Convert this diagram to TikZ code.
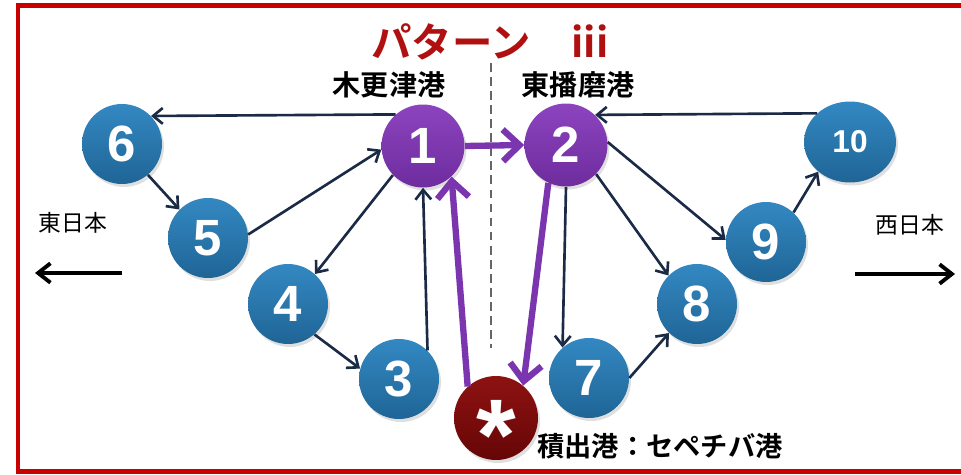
\documentclass[tikz,border=0pt]{standalone}
\usepackage{fontspec}
\setmainfont{Liberation Sans}
\newfontfamily\jp{Noto Sans CJK JP}[BoldFont={Noto Sans CJK JP Bold}]
\usetikzlibrary{arrows.meta,shapes.geometric,shadows}
\definecolor{bluetop}{HTML}{3388C2}
\definecolor{bluebot}{HTML}{1F6596}
\definecolor{purtop}{HTML}{8C44BE}
\definecolor{purbot}{HTML}{6E2C9E}
\definecolor{redtop}{HTML}{8E1212}
\definecolor{redbot}{HTML}{660606}
\definecolor{edgenavy}{HTML}{1B2B45}
\definecolor{purline}{HTML}{7B35AE}
\definecolor{framered}{HTML}{C80000}
\definecolor{titlered}{HTML}{B01010}
\tikzset{
  port/.style={circle, inner sep=0pt, text=white,
    font=\bfseries\fontsize{29}{29}\selectfont,
    drop shadow={opacity=0.25, shadow xshift=0.04cm, shadow yshift=-0.06cm}},
  bluenode/.style={port, minimum size=1.6cm, top color=bluetop, bottom color=bluebot},
  purnode/.style={port, minimum size=1.66cm, top color=purtop, bottom color=purbot},
  rednode/.style={port, minimum size=1.68cm, top color=redtop, bottom color=redbot},
  link/.style={draw=edgenavy, line width=1.5pt, -{Straight Barb[length=5.5pt,width=9pt]}},
  route/.style={draw=purline, line width=3.6pt, -{Straight Barb[length=9.5pt,width=18pt]}},
  dirarrow/.style={draw=black, line width=2.2pt, -{Straight Barb[length=7pt,width=11pt]}},
  lbl/.style={font=\jp\bfseries\fontsize{16}{16}\selectfont, inner sep=0pt},
}
\begin{document}
\begin{tikzpicture}[x=0.02cm, y=-0.02cm]
\useasboundingbox (0,0) rectangle (961,474);
% frame
\draw[framered, line width=0.1cm] (985,5) -- (18,5) -- (18,471) -- (985,471);
% title
\node[inner sep=0pt, text=titlered, font=\jp\bfseries\fontsize{23}{23}\selectfont] (title) at (490,42) {パターン　iii};
% dashed divider
\coordinate (dtop) at (491,63);
\coordinate (dbot) at (491,348);
\draw[gray!80!black, line width=0.7pt, dash pattern=on 5pt off 3pt] (dtop) -- (dbot);
% labels
\node[lbl] (kisarazu) at (389,85) {木更津港};
\node[lbl] (higashiharima) at (578,85) {東播磨港};
\node[lbl, font=\jp\fontsize{13}{13}\selectfont] (east) at (73,223) {東日本};
\node[lbl, font=\jp\fontsize{13}{13}\selectfont] (west) at (910,225) {西日本};
\node[lbl, font=\jp\bfseries\fontsize{15.5}{15.5}\selectfont] (sepetiba) at (660,446) {積出港：セペチバ港};
% direction arrows
\coordinate (ea) at (122,273);
\coordinate (eb) at (35,273);
\coordinate (wa) at (855,274);
\coordinate (wb) at (955,274);
\draw[dirarrow] (ea) -- (eb);
\draw[dirarrow] (wa) -- (wb);
% nodes
\node[purnode] (n1) at (423,146) {1};
\node[purnode] (n2) at (566,145) {2};
\node[bluenode] (n3) at (399,379) {3};
\node[bluenode] (n4) at (288,304) {4};
\node[bluenode] (n5) at (208,238) {5};
\node[bluenode] (n6) at (122,144) {6};
\node[bluenode] (n7) at (589,378) {7};
\node[bluenode] (n8) at (697,304) {8};
\node[bluenode] (n9) at (766,242) {9};
\node[port, ellipse, minimum width=1.84cm, minimum height=1.62cm, top color=bluetop, bottom color=bluebot,
  font=\bfseries\fontsize{18}{18}\selectfont] (n10) at (850,142) {10};
\node[rednode, text height=0pt, text depth=0pt, font=\bfseries\fontsize{58}{58}\selectfont] (ns) at (496,418) {\raisebox{-0.52em}{*}};
% dark links
\draw[link] (n1.131) -- (n6.44);
\draw[link] (n10.139) -- (n2.46);
\draw[link] (n6.-50) -- (n5.135);
\draw[link] (n5.5) -- (n1.185);
\draw[link] (n1.224) -- (n4.48);
\draw[link] (n4.-49) -- (n3.165);
\draw[link] (n3.45) -- (n1.-90);
\draw[link] (n2.-90) -- (n7.131);
\draw[link] (n7.0) -- (n8.226);
\draw[link] (n2.-44) -- (n8.135);
\draw[link] (n2.4) -- (n9.177);
\draw[link] (n9.47) -- (n10.223);
% purple route
\draw[route] (ns.132) -- (n1.-47);
\draw[route] (n1.east) -- (n2.west);
\draw[route] (n2.-115) -- (ns.50);
\end{tikzpicture}
\end{document}
